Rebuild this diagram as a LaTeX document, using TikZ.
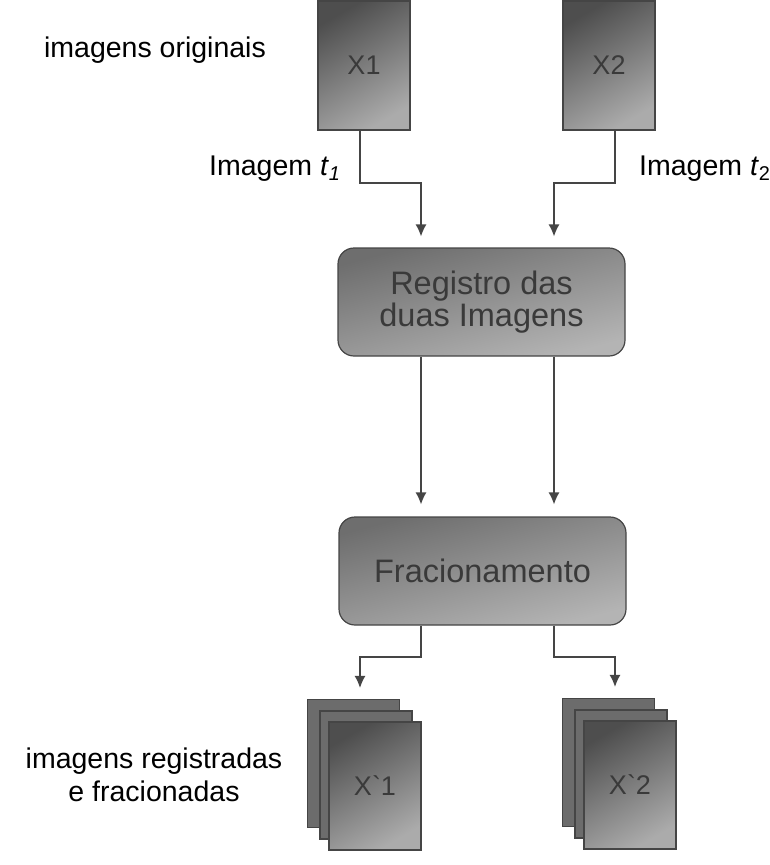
\documentclass[tikz,border=0pt]{standalone}
\usepackage{fontspec}
\setmainfont{Liberation Sans}
\usetikzlibrary{arrows.meta, calc, positioning}
\definecolor{edge}{HTML}{454545}
\definecolor{ink}{HTML}{3A3A3A}
\definecolor{imgdark}{HTML}{4E4E4E}
\definecolor{imglight}{HTML}{ABABAB}
\definecolor{procdark}{HTML}{6E6E6E}
\definecolor{proclight}{HTML}{B4B4B4}
\definecolor{pagegray}{HTML}{6C6C6C}
\tikzset{
    page/.style = {draw=edge, line width=1.2pt, fill=pagegray, inner sep=0pt,
        minimum width=92pt, minimum height=128pt},
    img/.style = {page, top color=imgdark, bottom color=imglight, shading angle=30,
        text=ink, font=\fontsize{27}{30}\selectfont},
    proc/.style = {draw=edge, line width=1.2pt, rounded corners=16pt, inner sep=0pt,
        minimum width=287pt, minimum height=108pt, top color=procdark, bottom color=proclight,
        shading angle=15, text=ink, align=center, font=\fontsize{32.5}{32}\selectfont},
    lbl/.style = {inner sep=0pt, font=\fontsize{28.5}{33}\selectfont},
    flow/.style = {draw=edge, line width=1.3pt, -{Latex[length=12pt,width=11pt]}},
    pics/pgstack/.style = {
        code = {%
        \node[page] (-back) at (-21.5,-22.5) {};
        \node[page] (-mid) at (-9,-11) {};
        \node[img] (-front) at (0,0) {#1};
        }
    },
}
\begin{document}
\begin{tikzpicture}[x=1pt, y=-1pt]
\useasboundingbox (0,0) rectangle (770,865);

% original images
\node[img, minimum height=129pt] (x1) at (364,65.5) {X1};
\node[img, minimum height=129pt] (x2) at (609,65.5) {X2};
\node[lbl, anchor=base] (orig) at (155,57) {imagens originais};
\node[lbl, anchor=base west] (t1) at (209,175) {Imagem \textit{t}\textsubscript{\textit{1}}};
\node[lbl, anchor=base west] (t2) at (639,175) {Imagem \textit{t}\textsubscript{2}};

% processing
\node[proc] (reg) at (481.5,302) {Registro das\\duas Imagens};
\node[proc] (fra) at (482.5,571) {Fracionamento};

% output images
\pic (s1) at (375,786) {pgstack=X\textasciigrave1};
\pic (s2) at (630,785) {pgstack=X\textasciigrave2};
\node[lbl, align=center] (out) at (154,775) {imagens registradas\\e fracionadas};

% connectors
\coordinate (k1) at (421,183);
\coordinate (k2) at (554,183);
\coordinate (k3) at (360,657);
\coordinate (k4) at (615,657);
\draw[flow, shorten >=11pt] ([xshift=-4pt]x1.south) |- (k1) -- (k1 |- reg.north);
\draw[flow, shorten >=11pt] ([xshift=6pt]x2.south) |- (k2) -- (k2 |- reg.north);
\draw[flow, shorten >=12pt] (k1 |- reg.south) -- (k1 |- fra.north);
\draw[flow, shorten >=12pt] (k2 |- reg.south) -- (k2 |- fra.north);
\draw[flow, shorten >=11pt] (k1 |- fra.south) |- (k3) -- (k3 |- s1-back.north);
\draw[flow, shorten >=11pt] (k2 |- fra.south) |- (k4) -- (k4 |- s2-back.north);
\end{tikzpicture}
\end{document}
